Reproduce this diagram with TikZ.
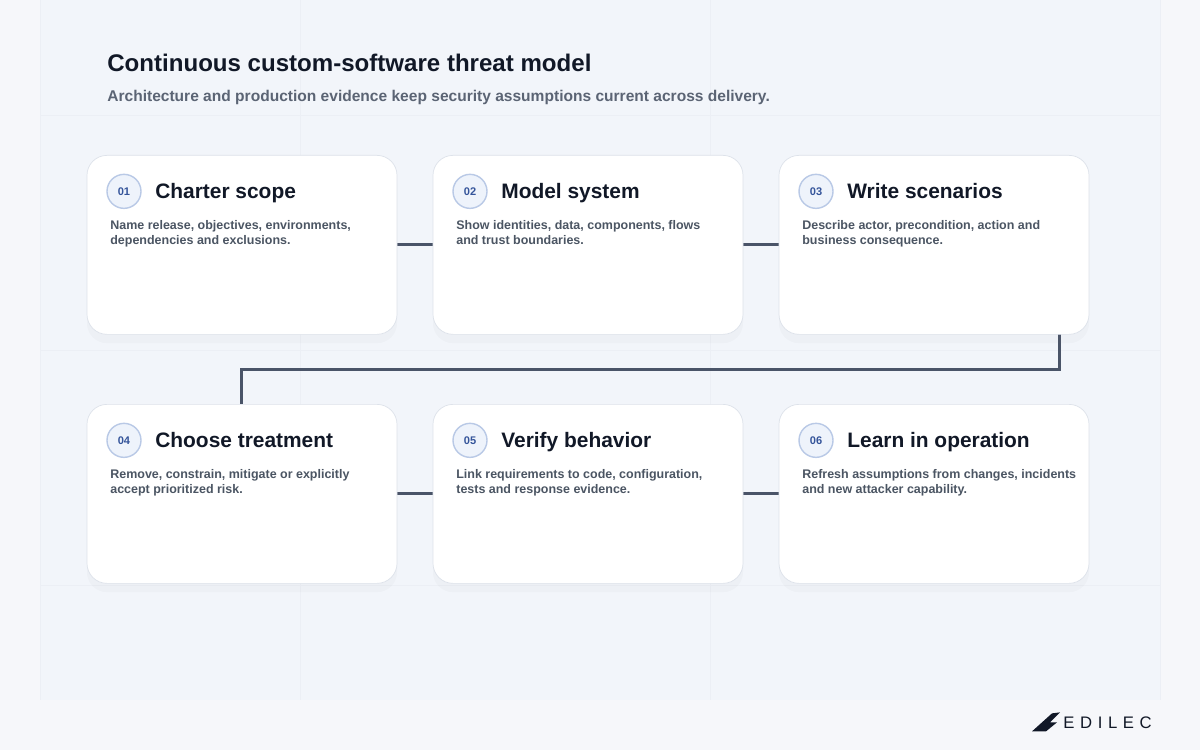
\documentclass[tikz,border=0pt]{standalone}
\usepackage{fontspec}
\setmainfont{Liberation Sans}
\usetikzlibrary{shadows}
\definecolor{pagebg}{HTML}{F6F7FA}
\definecolor{panelbg}{HTML}{F2F5FA}
\definecolor{gridc}{HTML}{ECEFF5}
\definecolor{ink}{HTML}{111827}
\definecolor{subink}{HTML}{5B6474}
\definecolor{bodyink}{HTML}{4B5563}
\definecolor{wire}{HTML}{4A5468}
\definecolor{badgefill}{HTML}{EEF3FB}
\definecolor{badgeline}{HTML}{B9C9E6}
\definecolor{badgeink}{HTML}{34549A}
\definecolor{cardline}{HTML}{DDE2EA}
\begin{document}
\begin{tikzpicture}
  [x=0.02cm,y=-0.02cm,
   card/.style={rectangle,draw=cardline,fill=white,rounded corners=20*0.02cm,
                minimum width=310*0.02cm,minimum height=179*0.02cm,
                outer sep=0,drop shadow={opacity=0.04,shadow xshift=0pt,shadow yshift=-5pt}},
   badge/.style={circle,draw=badgeline,fill=badgefill,thick,minimum size=34*0.02cm,
                 inner sep=0,text=badgeink,font=\bfseries\fontsize{6.3}{7}\selectfont},
   title/.style={anchor=base west,inner sep=0,text=ink,font=\bfseries\fontsize{11.9}{13}\selectfont},
   body/.style={anchor=north west,inner sep=0,align=left,text=bodyink,
                font=\bfseries\fontsize{7.1}{8.2}\selectfont},
   link/.style={draw=wire,line width=3*0.02cm}]
  \fill[pagebg] (0,0) rectangle (1200,750);
  \fill[panelbg] (40,0) rectangle (1160,700);
  \foreach \gx in {40,300,710,1160} \draw[gridc] (\gx,0) -- (\gx,700);
  \foreach \gy in {115,350,585} \draw[gridc] (40,\gy) -- (1160,\gy);
  % heading
  \node[anchor=west,inner sep=0,text=ink,font=\bfseries\fontsize{13.7}{16}\selectfont]
    (head) at (107,63) {Continuous custom-software threat model};
  \node[anchor=west,inner sep=0,text=subink,font=\bfseries\fontsize{8.85}{10}\selectfont]
    (sub) at (107,97) {Architecture and production evidence keep security assumptions current across delivery.};
  % connectors
  \coordinate (bendA) at (1059,369);
  \coordinate (bendB) at (241,369);
  \draw[link] (397,244) -- (433,244);
  \draw[link] (743,244) -- (779,244);
  \draw[link] (397,493) -- (433,493);
  \draw[link] (743,493) -- (779,493);
  \draw[link] (1059,334) -- (bendA) -- (bendB) -- (241,404);
  % cards
  \foreach \n/\cx/\cy/\ttl/\txt in {
    1/87/155/Charter scope/{Name release, objectives, environments,\\dependencies and exclusions.},
    2/433/155/Model system/{Show identities, data, components, flows\\and trust boundaries.},
    3/779/155/Write scenarios/{Describe actor, precondition, action and\\business consequence.},
    4/87/404/Choose treatment/{Remove, constrain, mitigate or explicitly\\accept prioritized risk.},
    5/433/404/Verify behavior/{Link requirements to code, configuration,\\tests and response evidence.},
    6/779/404/Learn in operation/{Refresh assumptions from changes, incidents\\and new attacker capability.}}{
    \node[card,anchor=north west] (card\n) at (\cx,\cy) {};
    \node[badge] (badge\n) at (\cx+37,\cy+36) {0\n};
    \node[title] (title\n) at (\cx+68,\cy+43) {\ttl};
    \node[body] (body\n) at (\cx+23,\cy+65) {\txt};
  }
  % logo
  \fill[ink] (1032,731) -- (1052,713) -- (1060,712) -- (1050,722) -- (1057,722) -- (1046,731) -- cycle;
  \node[anchor=west,inner sep=0,text=ink,font=\fontsize{9.5}{11}\selectfont]
    (logo) at (1063,722) {E\hspace{3.2pt}D\hspace{3.2pt}I\hspace{3.2pt}L\hspace{3.2pt}E\hspace{3.2pt}C};
\end{tikzpicture}
\end{document}
